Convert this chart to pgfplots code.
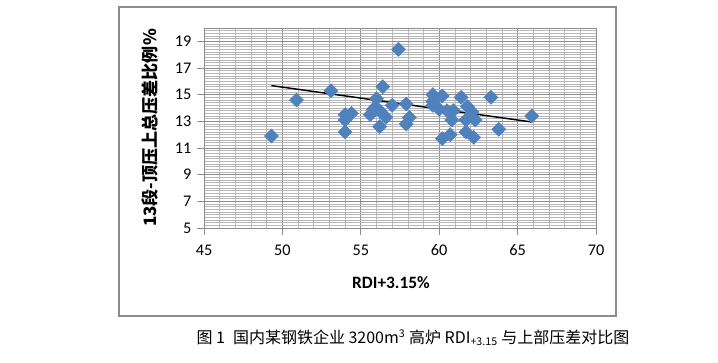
\documentclass[border=0pt]{standalone}
\usepackage{fontspec}
\setmainfont{Carlito}
\newfontfamily\cjk{Noto Sans CJK SC}
\usepackage{pgfplots}
\pgfplotsset{compat=1.18}
\definecolor{ptblue}{HTML}{4F81BD}
\definecolor{gridmaj}{HTML}{8C8C8C}
\definecolor{gridmin}{HTML}{B8B8B8}
\begin{document}
\begin{tikzpicture}
\begin{scope}[x=0.75pt,y=0.75pt]
\path[use as bounding box] (0,0) rectangle (718,362);
\draw[gridmaj,line width=0.9pt] (119,46) rectangle (616,355);
\end{scope}
\begin{axis}[
  at={(153pt,100.5pt)}, anchor=south west,
  scale only axis, width=294pt, height=150pt,
  xmin=45, xmax=70, ymin=5, ymax=20,
  xtick={45,50,...,70}, ytick={5,7,...,19},
  minor xtick={46,47,48,49,51,52,53,54,56,57,58,59,61,62,63,64,66,67,68,69},
  minor ytick={5.2,5.4,...,20.05},
  grid=both,
  major grid style={gridmaj,line width=0.6pt},
  minor grid style={gridmin,line width=0.5pt},
  axis line style={gridmaj,line width=0.7pt},
  tick align=outside, tick pos=left,
  major tick length=5pt, minor tick length=0pt,
  tick style={gridmaj,line width=0.6pt},
  /pgf/number format/assume math mode=true,
  tick label style={font=\fontsize{12.2}{14}\selectfont},
  xticklabel style={yshift=-4pt},
  yticklabel style={xshift=-1pt},
  clip=false,
]
\addplot[only marks, mark=square*, mark size=3.7pt, mark options={rotate=45, fill=ptblue, draw=ptblue}] coordinates {
(49.3,11.9) (50.9,14.6) (53.1,15.3) (54.0,13.5) (54.4,13.6) (54.0,13.1) (54.0,12.2)
(56.4,15.6) (57.4,18.4) (56.0,14.7) (55.8,13.9) (55.6,13.5) (56.2,12.6) (56.6,13.3)
(57.0,14.2) (56.2,13.8) (55.9,14.0) (57.9,14.3) (58.1,13.3) (57.9,12.8) (59.6,15.0)
(60.2,14.9) (59.6,14.2) (60.0,13.9) (60.5,13.8) (60.9,13.8) (60.8,13.1) (60.2,11.7)
(60.7,12.0) (61.4,14.8) (61.8,14.1) (62.1,13.7) (61.7,13.1) (62.3,13.1) (61.7,12.2)
(62.2,11.8) (63.3,14.8) (63.8,12.4) (65.9,13.4) (59.6,14.5)
};
\addplot[black, line width=1.1pt] coordinates {(49.3,15.68) (65.85,12.96)};
\end{axis}
\begin{scope}[x=0.75pt,y=0.75pt]
\node[font=\bfseries\fontsize{13}{15}\selectfont] at (391,79) {RDI+3.15\%};
\node[rotate=90, font=\cjk\bfseries\fontsize{12.8}{14}\selectfont] at (150,234) {13段-顶压上总压差比例\%};
\node[font=\cjk\fontsize{12}{14}\selectfont] at (413,24) {图 1\hspace{0.5em}国内某钢铁企业 3200m\textsuperscript{3} 高炉 RDI\textsubscript{+3.15} 与上部压差对比图};
\end{scope}
\end{tikzpicture}
\end{document}
